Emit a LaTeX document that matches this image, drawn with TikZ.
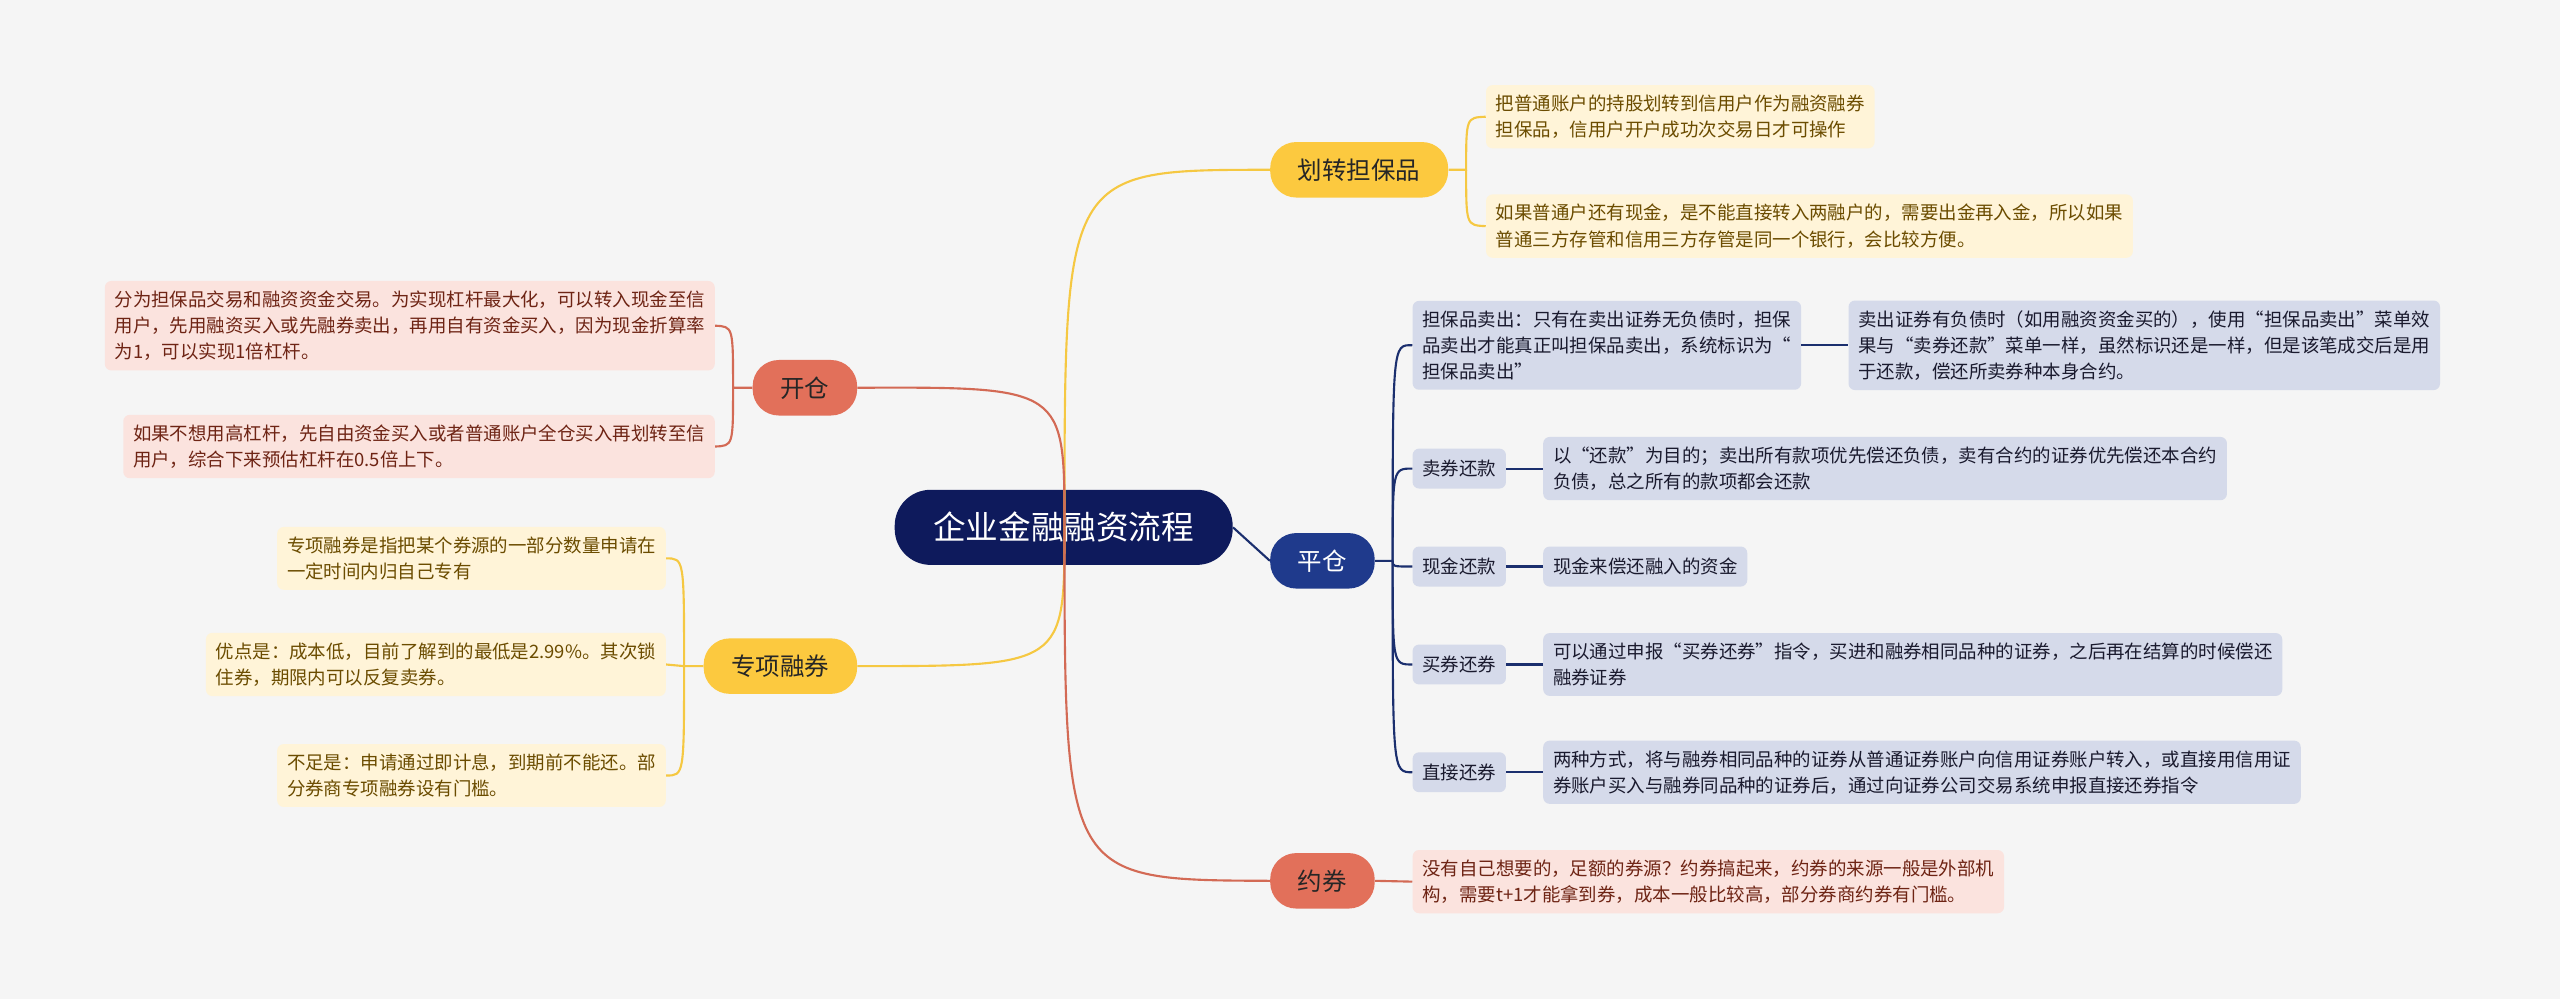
\documentclass[tikz,border=0pt]{standalone}
\usepackage{fontspec}
\setmainfont{Noto Sans CJK SC}
\definecolor{bg}{HTML}{F5F5F5}
\definecolor{navy}{HTML}{0E1A5C}
\definecolor{blue2}{HTML}{1F3A8C}
\definecolor{yel}{HTML}{FCC93F}
\definecolor{yline}{HTML}{F5C842}
\definecolor{red1}{HTML}{E2705A}
\definecolor{rline}{HTML}{D36A55}
\definecolor{bline}{HTML}{1B2F6E}
\definecolor{yleaf}{HTML}{FFF4D8}
\definecolor{ytext}{HTML}{6B4C00}
\definecolor{rleaf}{HTML}{FBE3DE}
\definecolor{rtext}{HTML}{6E2414}
\definecolor{bleaf}{HTML}{D5DAEA}
\definecolor{btext}{HTML}{1A1A2E}
\tikzset{
 br/.style={rounded corners=16pt,minimum height=34pt,inner xsep=14pt,font=\fontsize{15}{18}\selectfont},
 lf/.style={rounded corners=4pt,align=left,inner xsep=6pt,inner ysep=6pt,font=\fontsize{11.3}{16}\selectfont,anchor=west},
 ylf/.style={lf,fill=yleaf,text=ytext},
 rlf/.style={lf,fill=rleaf,text=rtext},
 blf/.style={lf,fill=bleaf,text=btext},
 ylc/.style={draw=yline,line width=1.3pt},
 rlc/.style={draw=rline,line width=1.3pt},
 blc/.style={draw=bline,line width=1.3pt},
}
\begin{document}
\begin{tikzpicture}[x=1pt,y=-1pt]
\fill[bg] (0,0) rectangle (1568,612);
\useasboundingbox (0,0) rectangle (1568,612);
% central
\node[fill=navy,text=white,rounded corners=22pt,minimum width=207pt,minimum height=46pt,font=\fontsize{20}{24}\selectfont] (c) at (651.5,323) {企业金融融资流程};
% branches
\node[br,fill=yel,text=black!85,minimum width=109pt] (hz) at (832.5,104) {划转担保品};
\node[br,fill=red1,text=black!85,minimum width=64pt] (kc) at (493,237.5) {开仓};
\node[br,fill=yel,text=black!85,minimum width=94pt] (zx) at (478,408) {专项融券};
\node[br,fill=blue2,text=white,minimum width=64pt] (pc) at (810,343.5) {平仓};
\node[br,fill=red1,text=black!85,minimum width=64pt] (yq) at (810,539.5) {约券};
\coordinate (co) at (652,323);
\draw[ylc] (co) .. controls (652,104) .. (hz.west);
\draw[rlc] (co) .. controls (652,237) .. (kc.east);
\draw[ylc] (co) .. controls (652,408) .. (zx.east);
\draw[rlc] (co) .. controls (652,539) .. (yq.west);
\draw[blc] (c.east) -- (pc.west);
% 划转 leaves
\node[ylf] (h1) at (910,71.5) {把普通账户的持股划转到信用户作为融资融券\\担保品，信用户开户成功次交易日才可操作};
\node[ylf] (h2) at (910,138.5) {如果普通户还有现金，是不能直接转入两融户的，需要出金再入金，所以如果\\普通三方存管和信用三方存管是同一个银行，会比较方便。};
\draw[ylc] (hz.east) -- (898,104) .. controls (898,72) .. (h1.west);
\draw[ylc] (898,104) .. controls (898,138) .. (h2.west);
% 开仓 leaves
\node[rlf,anchor=east] (k1) at (438,199.5) {分为担保品交易和融资资金交易。为实现杠杆最大化，可以转入现金至信\\用户，先用融资买入或先融券卖出，再用自有资金买入，因为现金折算率\\为1，可以实现1倍杠杆。};
\node[rlf,anchor=east] (k2) at (438,273.5) {如果不想用高杠杆，先自由资金买入或者普通账户全仓买入再划转至信\\用户，综合下来预估杠杆在0.5倍上下。};
\draw[rlc] (kc.west) -- (449,237.5) .. controls (449,200) .. (k1.east);
\draw[rlc] (449,237.5) .. controls (449,273) .. (k2.east);
% 专项 leaves
\node[ylf,anchor=east] (z1) at (408,342) {专项融券是指把某个券源的一部分数量申请在\\一定时间内归自己专有};
\node[ylf,anchor=east] (z2) at (408,407) {优点是：成本低，目前了解到的最低是2.99\%。其次锁\\住券，期限内可以反复卖券。};
\node[ylf,anchor=east] (z3) at (408,475) {不足是：申请通过即计息，到期前不能还。部\\分券商专项融券设有门槛。};
\draw[ylc] (zx.west) -- (419,408) -- (z2.east);
\draw[ylc] (419,408) .. controls (419,342) .. (z1.east);
\draw[ylc] (419,408) .. controls (419,475) .. (z3.east);
% 平仓 leaves
\node[blf] (p1) at (865,211.5) {担保品卖出：只有在卖出证券无负债时，担保\\品卖出才能真正叫担保品卖出，系统标识为“\\担保品卖出”};
\node[blf] (p1a) at (1132,211.5) {卖出证券有负债时（如用融资资金买的），使用“担保品卖出”菜单效\\果与“卖券还款”菜单一样，虽然标识还是一样，但是该笔成交后是用\\于还款，偿还所卖券种本身合约。};
\node[blf,inner ysep=7pt] (p2) at (865,287) {卖券还款};
\node[blf] (p2a) at (945,287) {以“还款”为目的；卖出所有款项优先偿还负债，卖有合约的证券优先偿还本合约\\负债，总之所有的款项都会还款};
\node[blf,inner ysep=7pt] (p3) at (865,347) {现金还款};
\node[blf,inner ysep=7pt] (p3a) at (945,347) {现金来偿还融入的资金};
\node[blf,inner ysep=7pt] (p4) at (865,407) {买券还券};
\node[blf] (p4a) at (945,407) {可以通过申报“买券还券”指令，买进和融券相同品种的证券，之后再在结算的时候偿还\\融券证券};
\node[blf,inner ysep=7pt] (p5) at (865,473) {直接还券};
\node[blf] (p5a) at (945,473) {两种方式，将与融券相同品种的证券从普通证券账户向信用证券账户转入，或直接用信用证\\券账户买入与融券同品种的证券后，通过向证券公司交易系统申报直接还券指令};
\draw[blc] (pc.east) -- (853,343.5) .. controls (853,211) .. (p1.west);
\draw[blc] (853,343.5) .. controls (853,287) .. (p2.west);
\draw[blc] (853,343.5) .. controls (853,347) .. (p3.west);
\draw[blc] (853,343.5) .. controls (853,407) .. (p4.west);
\draw[blc] (853,343.5) .. controls (853,473) .. (p5.west);
\draw[blc] (p1.east) -- (p1a.west);
\draw[blc] (p2.east) -- (p2a.west);
\draw[blc] (p3.east) -- (p3a.west);
\draw[blc] (p4.east) -- (p4a.west);
\draw[blc] (p5.east) -- (p5a.west);
% 约券 leaf
\node[rlf] (y1) at (865,540) {没有自己想要的，足额的券源？约券搞起来，约券的来源一般是外部机\\构，需要t+1才能拿到券，成本一般比较高，部分券商约券有门槛。};
\draw[rlc] (yq.east) -- (y1.west);
\end{tikzpicture}
\end{document}
